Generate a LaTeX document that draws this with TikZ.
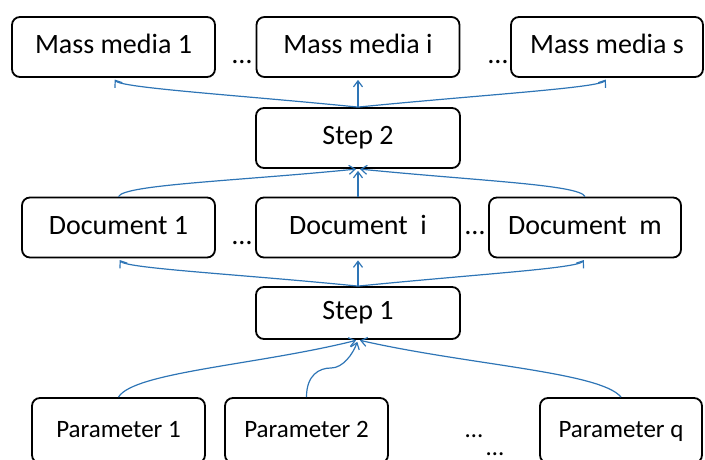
\documentclass[tikz,border=0pt]{standalone}
\usepackage{fontspec}
\setmainfont{Carlito}
\usetikzlibrary{arrows.meta}
\definecolor{linkblue}{RGB}{46,117,182}
\begin{document}
\begin{tikzpicture}[x=1pt,y=-1pt,
  box/.style={draw=black,line width=1.8pt,rounded corners=8pt,inner sep=0pt,align=center,text height=20pt,text depth=7pt,font=\fontsize{28}{34}\selectfont},
  pbox/.style={box,text height=18pt,text depth=4pt,font=\fontsize{25}{30}\selectfont},
  link/.style={draw=linkblue,line width=1.2pt,-{Straight Barb[length=6pt,width=9pt]},shorten >=2pt},
  ellip/.style={inner sep=0pt,anchor=base,font=\fontsize{28}{34}\selectfont},
  pellip/.style={ellip,font=\fontsize{25}{30}\selectfont}]
\useasboundingbox (0,0) rectangle (705,460);
% top row
\node[box,minimum width=203pt,minimum height=60pt] (mm1) at (113.5,47) {Mass media 1};
\node[box,minimum width=203pt,minimum height=60pt] (mmi) at (358,47) {Mass media i};
\node[box,minimum width=192pt,minimum height=60pt] (mms) at (607,47) {Mass media s};
\node[ellip] (d1) at (242,64) {…};
\node[ellip] (d2) at (498,64) {…};
% step 2
\node[box,minimum width=204pt,minimum height=60pt] (step2) at (358,138) {Step 2};
% documents
\node[box,minimum width=193pt,minimum height=60pt] (doc1) at (118.5,227.5) {Document 1};
\node[box,minimum width=204pt,minimum height=60pt] (doci) at (358,227.5) {Document\ \ i};
\node[box,minimum width=192pt,minimum height=60pt] (docm) at (585,227.5) {Document\ \ m};
\node[ellip] (d3) at (242,244) {…};
\node[ellip] (d4) at (475,234) {…};
% step 1
\node[box,minimum width=204pt,minimum height=52pt] (step1) at (358,313) {Step 1};
% parameters
\node[pbox,minimum width=173pt,minimum height=65pt] (par1) at (118.5,430.5) {Parameter 1};
\node[pbox,minimum width=163pt,minimum height=65pt] (par2) at (306.5,430.5) {Parameter 2};
\node[pbox,minimum width=162pt,minimum height=65pt] (parq) at (621,430.5) {Parameter q};
\node[pellip] (d5) at (474,437) {…};
\node[pellip] (d6) at (495,455) {…};
% step2 -> mass media
\draw[link] (step2.north) .. controls +(-120,-12) and +(7,10) .. (mm1.south);
\draw[link] (step2.north) -- (mmi.south);
\draw[link] (step2.north) .. controls +(120,-12) and +(-7,10) .. (mms.south);
% documents -> step2
\draw[link] (doc1.north) .. controls +(5,-12) and +(-120,12) .. (step2.south);
\draw[link] (doci.north) -- (step2.south);
\draw[link] (docm.north) .. controls +(-5,-12) and +(120,12) .. (step2.south);
% step1 -> documents
\draw[link] (step1.north) .. controls +(-120,-12) and +(7,10) .. (doc1.south);
\draw[link] (step1.north) -- (doci.south);
\draw[link] (step1.north) .. controls +(120,-12) and +(-7,10) .. (docm.south);
% parameters -> step1
\coordinate (p2bend) at (331,368);
\draw[link] (par1.north) .. controls +(15,-25) and +(-100,25) .. (step1.south);
\draw[link] (par2.north) .. controls +(0,-22) and +(-12,0) .. (p2bend) .. controls +(12,0) and +(-5,14) .. (step1.south);
\draw[link] (parq.north) .. controls +(-20,-25) and +(110,25) .. (step1.south);
\end{tikzpicture}
\end{document}
